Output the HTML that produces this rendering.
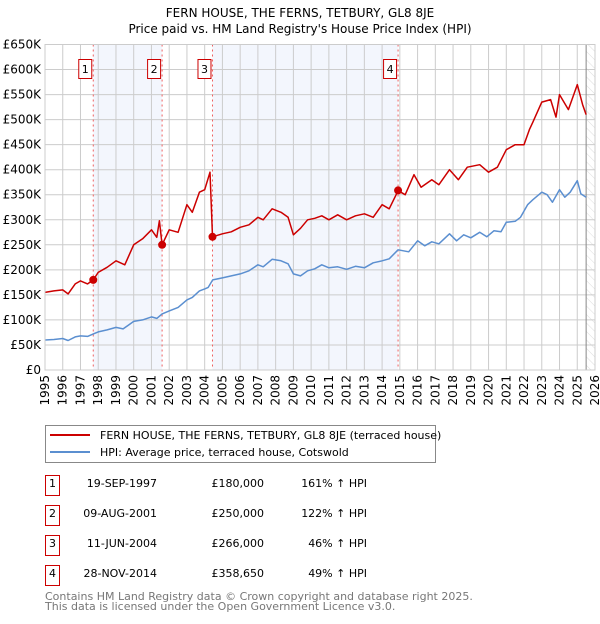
<!DOCTYPE html>
<html><head><meta charset="utf-8">
<style>
body{margin:0;background:#fff;font-family:"DejaVu Sans","Liberation Sans",sans-serif;}
svg text{font-family:"DejaVu Sans","Liberation Sans",sans-serif;}
</style></head>
<body>
<svg id="chart" width="600" height="620" viewBox="0 0 600 620" xmlns="http://www.w3.org/2000/svg">
<defs>
<pattern id="hatch" width="6" height="6" patternUnits="userSpaceOnUse" patternTransform="rotate(-45)">
<line x1="0" y1="0" x2="0" y2="6" stroke="#ddd" stroke-width="1"/>
</pattern>
</defs>
<text x="300" y="17" text-anchor="middle" font-size="12" fill="#000">FERN HOUSE, THE FERNS, TETBURY, GL8 8JE</text>
<text x="300" y="33" text-anchor="middle" font-size="12" fill="#000">Price paid vs. HM Land Registry's House Price Index (HPI)</text>
<g id="plot"></g>
<g>
<rect x="45.5" y="425.5" width="390" height="37" fill="#fff" stroke="#888"/>
<line x1="50" y1="435" x2="90" y2="435" stroke="#cc0000" stroke-width="2"/>
<text x="100" y="439" font-size="11">FERN HOUSE, THE FERNS, TETBURY, GL8 8JE (terraced house)</text>
<line x1="50" y1="452" x2="90" y2="452" stroke="#5b8fd0" stroke-width="2"/>
<text x="100" y="456" font-size="11">HPI: Average price, terraced house, Cotswold</text>
</g>
<g id="table"></g>
<text x="45" y="600" font-size="11" fill="#777">Contains HM Land Registry data © Crown copyright and database right 2025.</text>
<text x="45" y="610" font-size="11" fill="#777">This data is licensed under the Open Government Licence v3.0.</text>
</svg>
<script>
const hpiYears=[1995,1995.5,1996,1996.3,1996.7,1997,1997.4,1997.72,1998,1998.5,1999,1999.4,1999.8,2000,2000.5,2001,2001.3,2001.6,2002,2002.5,2003,2003.3,2003.7,2004,2004.2,2004.45,2005,2005.5,2006,2006.5,2007,2007.3,2007.8,2008.3,2008.7,2009,2009.4,2009.8,2010.2,2010.6,2011,2011.5,2012,2012.5,2013,2013.5,2014,2014.4,2014.9,2015.5,2016,2016.4,2016.8,2017.2,2017.8,2018.2,2018.6,2019,2019.5,2019.9,2020.3,2020.7,2021,2021.5,2021.8,2022.2,2022.5,2023,2023.3,2023.6,2024,2024.3,2024.6,2025,2025.2,2025.5];
const hpiValues=[60,61,63,59,66,68,67,72,76,80,85,82,92,97,100,106,103,112,118,125,140,145,158,162,165,180,184,188,192,198,210,206,221,218,212,192,188,198,202,210,204,206,201,207,204,214,218,222,240,236,258,248,256,252,272,258,270,264,275,266,278,276,295,297,305,330,340,355,350,335,360,345,355,378,352,345];
const ppYears=[1995,1995.5,1996,1996.3,1996.7,1997,1997.4,1997.72,1998,1998.5,1999,1999.5,2000,2000.5,2001,2001.3,2001.45,2001.6,2002,2002.5,2003,2003.3,2003.7,2004,2004.3,2004.44,2005,2005.5,2006,2006.5,2007,2007.3,2007.8,2008.3,2008.7,2009,2009.4,2009.8,2010.2,2010.6,2011,2011.5,2012,2012.5,2013,2013.5,2014,2014.4,2014.9,2015.3,2015.8,2016.2,2016.8,2017.2,2017.8,2018.3,2018.8,2019.5,2020,2020.5,2021,2021.5,2022,2022.3,2022.5,2023,2023.5,2023.8,2024,2024.5,2025,2025.3,2025.5];
const ppValues=[155,158,160,152,172,178,172,180,195,205,218,210,250,262,280,265,298,250,280,275,330,315,355,360,395,266,272,276,285,290,305,300,322,315,305,270,283,300,303,308,300,310,300,308,312,305,330,322,358,350,390,365,380,370,400,380,405,410,395,405,440,450,450,480,495,535,540,505,550,520,570,530,510];
const sales=[{n:"1",yr:1997.72,v:180,date:"19-SEP-1997",price:"£180,000",pct:"161% ↑ HPI"},{n:"2",yr:2001.6,v:250,date:"09-AUG-2001",price:"£250,000",pct:"122% ↑ HPI"},{n:"3",yr:2004.44,v:266,date:"11-JUN-2004",price:"£266,000",pct:"46% ↑ HPI"},{n:"4",yr:2014.9,v:358.65,date:"28-NOV-2014",price:"£358,650",pct:"49% ↑ HPI"}];
const yTicks=[0,50,100,150,200,250,300,350,400,450,500,550,600,650];
const xTicks=[1995,1996,1997,1998,1999,2000,2001,2002,2003,2004,2005,2006,2007,2008,2009,2010,2011,2012,2013,2014,2015,2016,2017,2018,2019,2020,2021,2022,2023,2024,2025,2026];

const L=45,R=595,T=44.5,B=370;
const xs=y=>L+(y-1995)*(R-L)/31;
const ys=v=>B-v*(B-T)/650;
const NS="http://www.w3.org/2000/svg";
const plot=document.getElementById('plot');
function mk(tag,attrs,parent){const e=document.createElementNS(NS,tag);for(const k in attrs)e.setAttribute(k,attrs[k]);(parent||plot).appendChild(e);return e;}
[[0,1],[2,3]].forEach(p=>{
 const r=mk('rect',{x:xs(sales[p[0]].yr),y:T,width:xs(sales[p[1]].yr)-xs(sales[p[0]].yr),height:B-T,fill:'#f0f4fd',opacity:0.8});
 
 
});
const h=mk('rect',{x:xs(2025.5),y:T,width:R-xs(2025.5),height:B-T,fill:'url(#hatch)'});


yTicks.forEach(v=>{
 mk('line',{x1:L,x2:R,y1:ys(v),y2:ys(v),stroke:'#ccc','stroke-width':1});
 const t=mk('text',{x:L-4,y:ys(v)+4,'text-anchor':'end','font-size':12,fill:'#000'});
 t.textContent=v===0?'£0':'£'+v+'K';
 
 
});
xTicks.forEach(y=>{
 mk('line',{x1:xs(y),x2:xs(y),y1:T,y2:B,stroke:'#ccc','stroke-width':1});
 const t=mk('text',{x:0,y:0,'text-anchor':'end','font-size':12,fill:'#000',transform:`translate(${xs(y)+4},${B+5}) rotate(-90)`});
 t.textContent=y;
 
 
});
mk('line',{x1:xs(2025.5),x2:xs(2025.5),y1:T,y2:B,stroke:'#888','stroke-width':1});
sales.forEach(s=>{
 mk('line',{x1:xs(s.yr),x2:xs(s.yr),y1:T,y2:B,stroke:'#f06060','stroke-width':1,'stroke-dasharray':'2,3'});
});
function line(xa,va,color,name){
 const d=xa.map((x,i)=>(i?'L':'M')+xs(x).toFixed(1)+','+ys(va[i]).toFixed(1)).join('');
 const p=mk('path',{d:d,fill:'none',stroke:color,'stroke-width':1.5,'stroke-linejoin':'round'});
 
 
}
line(hpiYears,hpiValues,'#5b8fd0','hpi-line');
line(ppYears,ppValues,'#cc0000','price-paid-line');
sales.forEach(s=>{
 const c=mk('circle',{cx:xs(s.yr),cy:ys(s.v),r:4,fill:'#cc0000'});
 
 
 const g=mk('g',{});
 
 
 mk('rect',{x:xs(s.yr)-14.5,y:59.5,width:13,height:19,fill:'#fff',stroke:'#cc0000'},g);
 const t=mk('text',{x:xs(s.yr)-8,y:73,'text-anchor':'middle','font-size':11},g);
 t.textContent=s.n;
});
mk('rect',{x:L,y:T,width:R-L,height:B-T,fill:'none',stroke:'#ccc'});
const tb=document.getElementById('table');
sales.forEach((s,i)=>{
 const y=487+i*30;
 const g=mk('g',{},tb);
 
 
 mk('rect',{x:45.5,y:y-11.5,width:14,height:20,fill:'#fff',stroke:'#cc0000'},g);
 const a=mk('text',{x:52.5,y:y,'text-anchor':'middle','font-size':11},g);a.textContent=s.n;
 const b=mk('text',{x:157,y:y,'text-anchor':'end','font-size':11},g);b.textContent=s.date;
 const c=mk('text',{x:264,y:y,'text-anchor':'end','font-size':11},g);c.textContent=s.price;
 const d=mk('text',{x:367,y:y,'text-anchor':'end','font-size':11},g);d.textContent=s.pct;
});
</script>
</body></html>
